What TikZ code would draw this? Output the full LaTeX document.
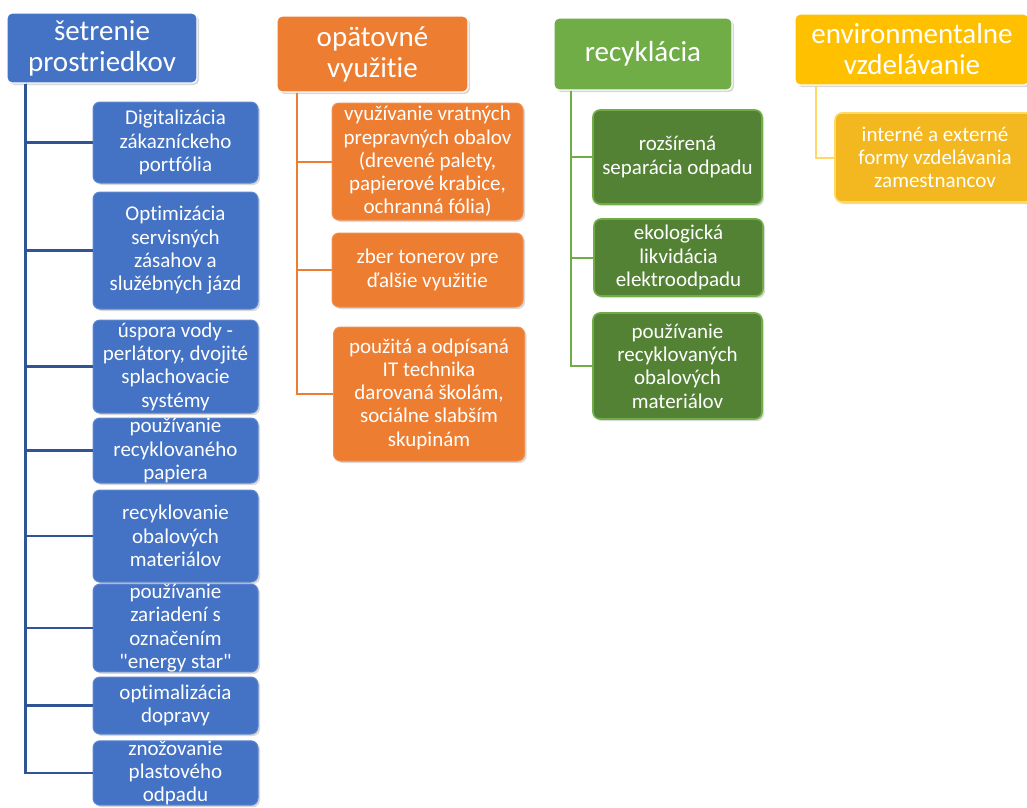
\documentclass[tikz,border=0pt]{standalone}
\usepackage{fontspec}
\setmainfont{Carlito}[Ligatures={NoCommon,TeXOff}]
\usetikzlibrary{shadows}
\definecolor{blueb}{HTML}{4472C4}
\definecolor{bluel}{HTML}{2F5597}
\definecolor{orab}{HTML}{ED7D31}
\definecolor{greb}{HTML}{70AD47}
\definecolor{gred}{HTML}{548235}
\definecolor{yelb}{HTML}{FFC000}
\definecolor{yeld}{HTML}{F3B71F}
\definecolor{yell}{HTML}{FFD966}

\begin{document}
\begin{tikzpicture}[x=1pt,y=-1pt,
  head/.style={rounded corners=5pt, draw=white, line width=1.2pt, text=white, align=center,
    inner sep=0pt, font=\fontsize{29}{31}\selectfont,
    drop shadow={opacity=0.3, shadow xshift=2pt, shadow yshift=-2pt}},
  leaf/.style={rounded corners=7pt, line width=1pt, text=white, align=center,
    inner sep=0pt, font=\fontsize{21}{23.3}\selectfont,
    drop shadow={opacity=0.3, shadow xshift=2pt, shadow yshift=-2pt}},
  bleaf/.style={leaf, fill=blueb, draw=blueb!85!white, minimum width=165pt},
  oleaf/.style={leaf, fill=orab, draw=orab!85!white, minimum width=191pt},
  gleaf/.style={leaf, fill=gred, draw=greb, line width=1.6pt, minimum width=169pt},
  yleaf/.style={leaf, fill=yeld, draw=yell, line width=1.6pt, minimum width=200pt},
  link/.style={line width=2pt}]
  \useasboundingbox (0,0) rectangle (1027,807);

  % setrenie prostriedkov
  \node[head, fill=blueb, minimum width=190pt, minimum height=70pt] (hb) at (102,48)
    {šetrenie\\prostriedkov};
  \node[bleaf, minimum height=81pt] (b1) at (175.5,142.5) {Digitalizácia\\zákazníckeho\\portfólia};
  \node[bleaf, minimum height=117pt] (b2) at (175.5,250.5) {Optimizácia\\servisných\\zásahov a\\služébných jázd};
  \node[bleaf, minimum height=93pt] (b3) at (175.5,366.5) {úspora vody -\\perlátory, dvojité\\splachovacie\\systémy};
  \node[bleaf, minimum height=65pt] (b4) at (175.5,450.5) {používanie\\recyklovaného\\papiera};
  \node[bleaf, minimum height=92pt] (b5) at (175.5,536) {recyklovanie\\obalových\\materiálov};
  \node[bleaf, minimum height=82pt] (b6) at (175.5,628) {používanie\\zariadení s\\označením\\"energy star"};
  \node[bleaf, minimum height=57pt] (b7) at (175.5,705.5) {optimalizácia\\dopravy};
  \node[bleaf, minimum height=64pt] (b8) at (175.5,773) {znožovanie\\plastového\\odpadu};
  \coordinate (bs) at ([xshift=19pt]hb.south west);
  \foreach \n in {b1,b2,b3,b4,b5,b6,b7,b8}
    \draw[link, bluel, line width=2.5pt] (bs) |- (\n.west);

  % opatovne vyuzitie
  \node[head, fill=orab, minimum width=191pt, minimum height=76pt] (ho) at (372.5,54)
    {opätovné\\využitie};
  \node[oleaf, minimum height=117pt] (o1) at (427.5,161.5) {využívanie vratných\\prepravných obalov\\(drevené palety,\\papierové krabice,\\ochranná fólia)};
  \node[oleaf, minimum height=74pt] (o2) at (427.5,270) {zber tonerov pre\\ďalšie využitie};
  \node[oleaf, minimum height=134pt] (o3) at (429,394) {použitá a odpísaná\\IT technika\\darovaná školám,\\sociálne slabším\\skupinám};
  \coordinate (os) at ([xshift=21pt]ho.south west);
  \foreach \n in {o1,o2,o3}
    \draw[link, orab] (os) |- (\n.west);

  % recyklacia
  \node[head, fill=greb, minimum width=178pt, minimum height=72pt] (hg) at (643,54)
    {recyklácia};
  \node[gleaf, minimum height=94pt] (g1) at (677.5,157) {rozšírená\\separácia odpadu};
  \node[gleaf, minimum height=77pt] (g2) at (678.5,257.5) {ekologická\\likvidácia\\elektroodpadu};
  \node[gleaf, minimum height=106pt] (g3) at (677.5,366) {používanie\\recyklovaných\\obalových\\materiálov};
  \coordinate (gs) at ([xshift=18pt]hg.south west);
  \foreach \n in {g1,g2,g3}
    \draw[link, greb] (gs) |- (\n.west);

  % environmentalne vzdelavanie
  \node[head, fill=yelb, minimum width=234pt, minimum height=71pt] (hy) at (912,49.5)
    {environmentalne\\vzdelávanie};
  \node[yleaf, minimum height=89pt] (y1) at (935,157.5) {interné a externé\\formy vzdelávania\\zamestnancov};
  \coordinate (ys) at ([xshift=22pt]hy.south west);
  \draw[link, yell] (ys) |- (y1.west);
\end{tikzpicture}
\end{document}
